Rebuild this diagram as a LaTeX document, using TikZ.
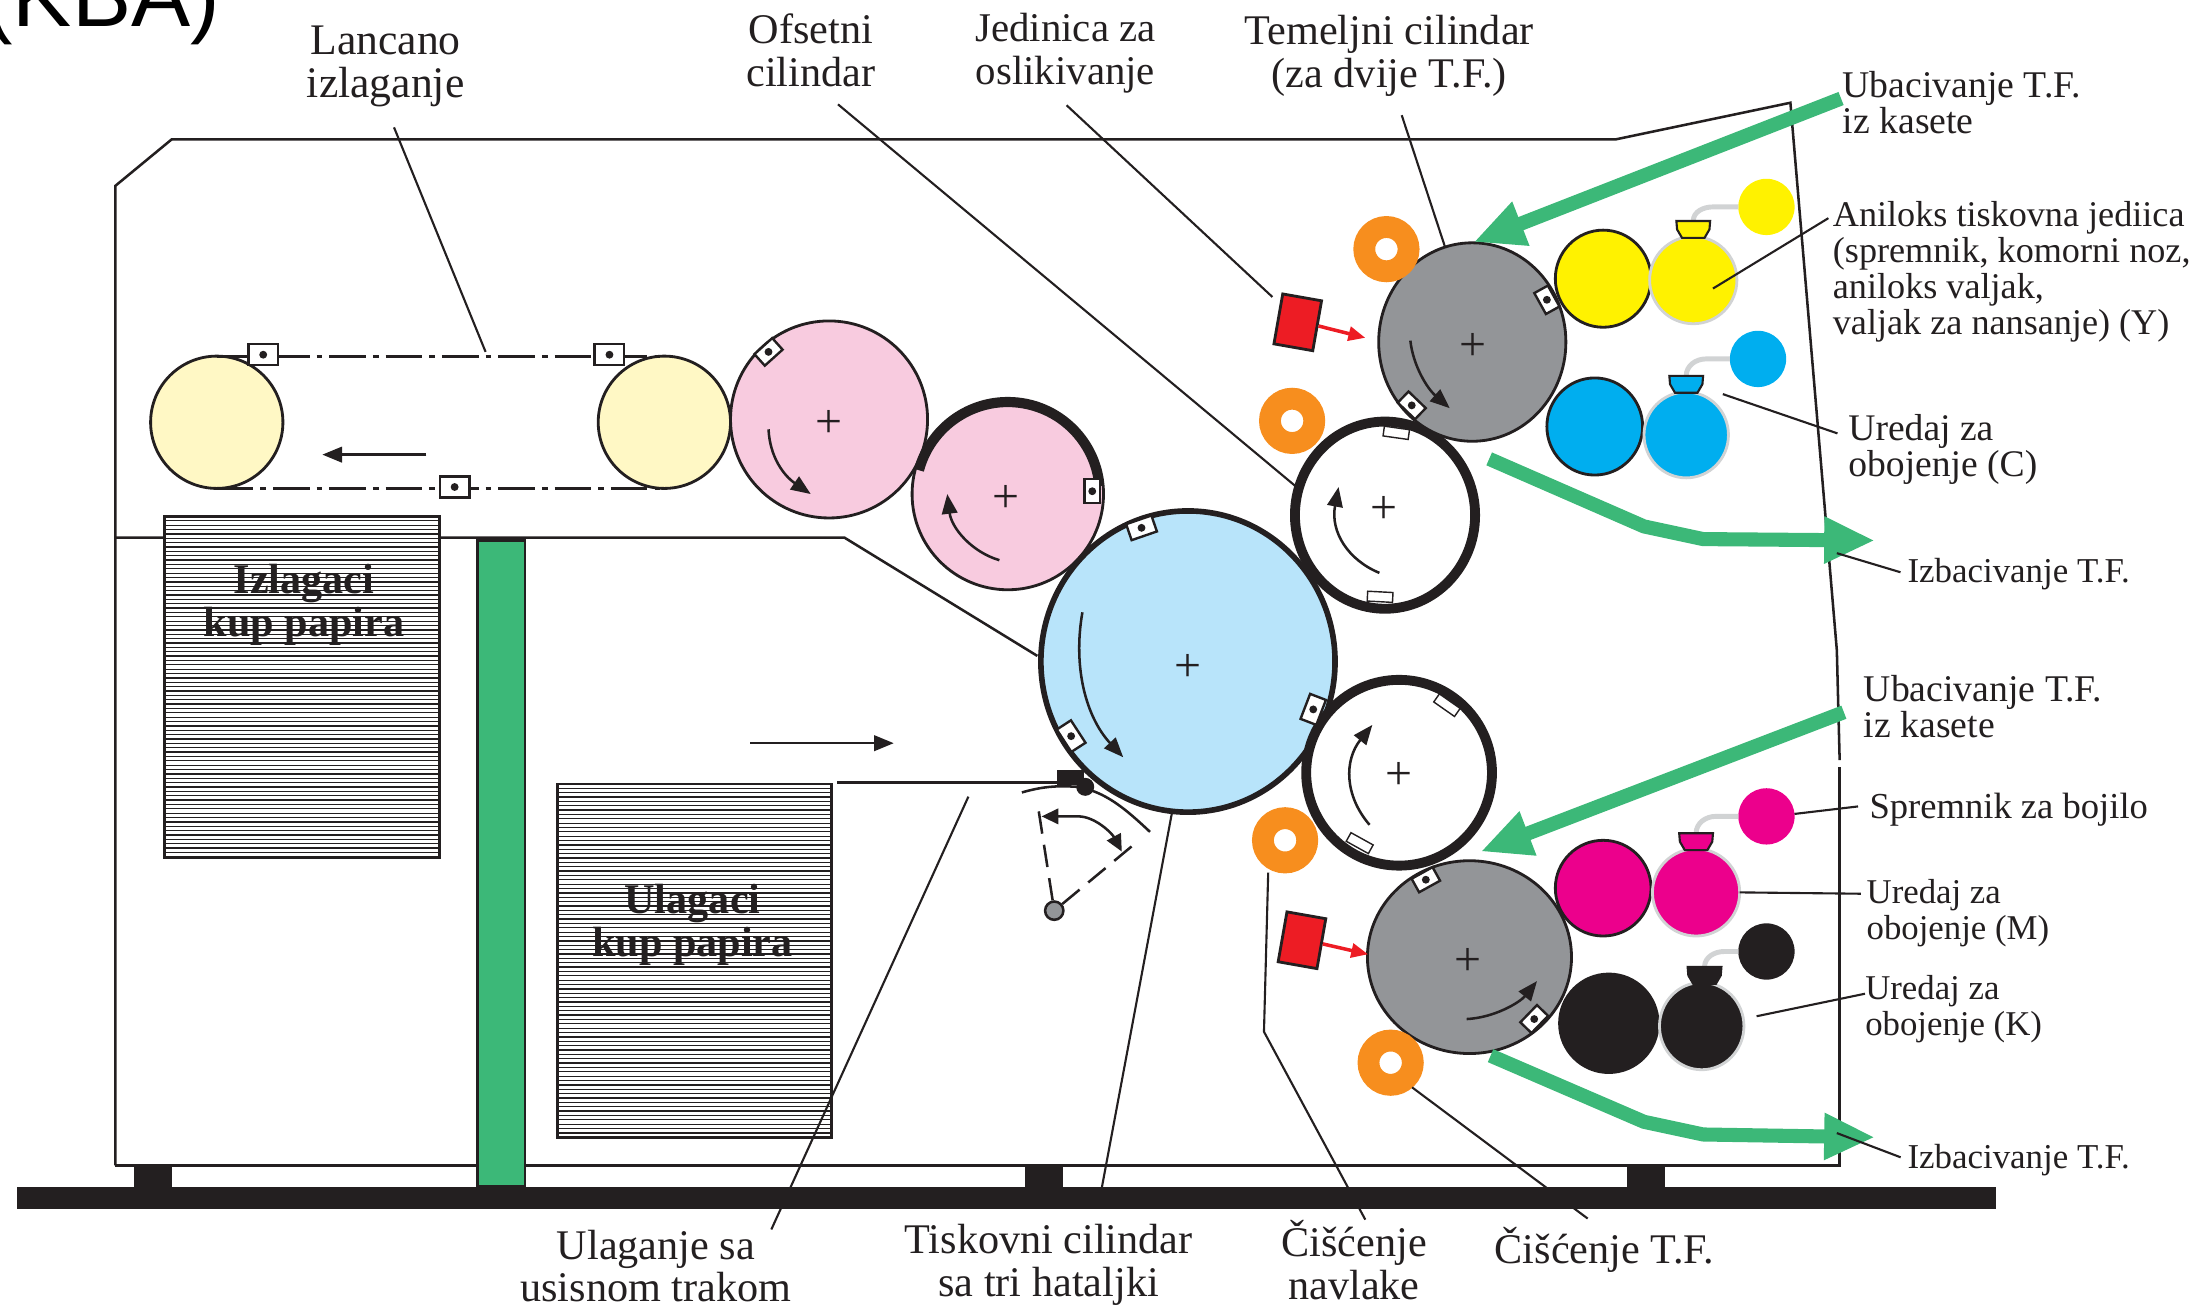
\documentclass[tikz,border=0pt]{standalone}
\usepackage{fontspec}
\setmainfont{Liberation Serif}
\newfontfamily\titlefont{Liberation Sans}
\usetikzlibrary{arrows.meta}
\usetikzlibrary{shapes.geometric}
\definecolor{inkblack}{HTML}{231F20}
\definecolor{chaincol}{HTML}{FFF8C5}
\definecolor{pinkcol}{HTML}{F8CBDF}
\definecolor{bluecol}{HTML}{B8E4FA}
\definecolor{greycol}{HTML}{939598}
\definecolor{greencol}{HTML}{3CB878}
\definecolor{ringcol}{HTML}{F78E1E}
\definecolor{redcol}{HTML}{ED1C24}
\definecolor{yelcol}{HTML}{FFF200}
\definecolor{cyacol}{HTML}{00AEEF}
\definecolor{magcol}{HTML}{EC008C}
\definecolor{tubecol}{HTML}{D1D3D4}
\tikzset{
  rsize/.style 2 args={minimum width=#1pt,minimum height=#2pt},
  roll/.style={ellipse,draw=inkblack,inner sep=0pt,outer sep=0pt,line width=2pt},
  anilox/.style={roll,draw=tubecol},
  ink/.style={ellipse,inner sep=0pt,outer sep=0pt,rsize={40}{40}},
  ring/.style={circle,draw=ringcol,fill=white,line width=15.5pt,minimum size=31.5pt,inner sep=0pt,outer sep=0pt},
  clamp/.style={rectangle,draw=inkblack,fill=white,line width=1.7pt,inner sep=0pt,rsize={17}{11}},
  slot/.style={rectangle,draw=inkblack,fill=white,line width=1pt,inner sep=0pt,rsize={18}{7}},
  lab/.style={align=center,inner sep=0pt,font=\fontsize{#1}{30.5}\selectfont,text=inkblack},
  lab/.default=30,
  labr/.style={align=left,inner sep=0pt,anchor=west,font=\fontsize{#1}{25.5}\selectfont,text=inkblack},
  labr/.default=25.5,
  boldlab/.style={align=center,inner sep=0pt,font=\bfseries\fontsize{30}{30.5}\selectfont,text=inkblack},
  crossmark/.style={inner sep=0pt,font=\fontsize{34}{34}\selectfont,text=inkblack,text height=25.7pt,text depth=0pt},
  hatch/.style={inkblack,line width=0.9pt},
  leader/.style={draw=inkblack,line width=1.5pt},
  turn/.style={draw=inkblack,line width=1.8pt,-{Triangle[length=14pt,width=11pt]}},
  sheet/.style={draw=greencol,line width=10pt,line join=round,-{Triangle[length=36pt,width=31pt]}},
  beam/.style={draw=redcol,line width=2.5pt,-{Triangle[length=12pt,width=10pt]}}
}
\newcommand{\clampat}[4][]{
  \node[clamp,rotate=#4,#1] (#2) at (#3) {};
  \fill[inkblack] (#2) circle (2.8pt);}
\begin{document}
\begin{tikzpicture}[x=1pt,y=-1pt]
  \clip (0,0) rectangle (1568,929);
  \node[anchor=base west,inner sep=0pt,font=\titlefont\fontsize{63}{63}\selectfont] (title) at (-12,19) {(KBA)};
  % machine frame
  \draw[inkblack,line width=1.8pt] (82,828) -- (82,132) -- (122,99) -- (1148,99) -- (1272,73) -- (1305,462) -- (1307,540);
  \draw[inkblack,line width=1.8pt] (1307,545) -- (1307,828) -- (82,828);
  \draw[inkblack,line width=1.8pt] (82,382) -- (600,382) -- (737,466);
  \fill[inkblack] (12,843) rectangle (1418,859);
  \foreach \xx in {95,728,1156}
    \fill[inkblack] (\xx,828) rectangle +(27,15);
  \draw[inkblack,line width=2pt,fill=greencol] (339,384) rectangle (373,843);
  % paper stacks
  \draw[inkblack,line width=2pt,fill=white] (117,367) rectangle (312,609);
  \foreach \yy in {370,373.1,...,607}
    \draw[hatch] (117,\yy) -- (312,\yy);
  \draw[inkblack,line width=2pt,fill=white] (396,557) rectangle (591,808);
  \foreach \yy in {560,563.1,...,806}
    \draw[hatch] (396,\yy) -- (591,\yy);
  \node[boldlab] (izlagaci) at (216,430) {Izlagaci\\kup papira};
  \node[boldlab] (ulagaci) at (492,657) {Ulagaci\\kup papira};
  % chain delivery
  \node[roll,fill=chaincol,rsize={94}{94}] (chaina) at (154,300) {};
  \node[roll,fill=chaincol,rsize={94}{94}] (chainb) at (472,300) {};
  \draw[inkblack,line width=2pt,dash pattern=on 26pt off 5pt on 4pt off 5pt] (chaina.north) -- (chainb.north);
  \draw[inkblack,line width=2pt,dash pattern=on 26pt off 5pt on 4pt off 5pt] (chaina.south) -- (chainb.south);
  \clampat[rsize={21}{15}]{cha}{187,252}{0}
  \clampat[rsize={21}{15}]{chb}{433,252}{0}
  \clampat[rsize={21}{15}]{chc}{323,346}{0}
  \draw[turn] (303,323) -- (229,323);
  \draw[turn] (533,528) -- (635,528);
  % cylinders
  \node[roll,fill=pinkcol,rsize={140}{140}] (pinka) at (589,298) {};
  \node[roll,fill=pinkcol,rsize={136}{136}] (pinkb) at (716,351) {};
  \draw[inkblack,line width=6.5pt] (pinkb) ++(165:65pt) arc[start angle=165,end angle=5,radius=65pt];
  \node[roll,fill=bluecol,line width=4pt,rsize={209}{214}] (press) at (844,470) {};
  \node[roll,fill=white,line width=7pt,rsize={128}{133}] (blanketa) at (984,366) {};
  \node[roll,fill=white,line width=7pt,rsize={132}{132}] (blanketb) at (994,549) {};
  \node[roll,fill=greycol,rsize={133}{141}] (basea) at (1046,243) {};
  \node[roll,fill=greycol,rsize={145}{137}] (baseb) at (1044,680) {};
  \foreach \cx/\cy in {589/298,715/351,844/471,983.5/359,994/548,1046.5/243,1043/680}
    \node[crossmark] (cross\cx) at (\cx,\cy) {+};
  \node[slot,rotate=-8] (slota) at (992,307.5) {};
  \node[slot,rotate=-3] (slotb) at (980.5,424) {};
  \node[slot,rotate=-35] (slotc) at (1028,501) {};
  \node[slot,rotate=-29] (slotd) at (966,599) {};
  \clampat{cpa}{546,250}{42}
  \clampat{cpb}{776,349}{90}
  \clampat[rsize={19}{12}]{cba}{811,375}{19}
  \clampat[rsize={19}{12}]{cbb}{933,504}{69}
  \clampat[rsize={19}{12}]{cbc}{761,523}{-57}
  \clampat{cga}{1099,213}{-61}
  \clampat{cgb}{1003,288}{-44}
  \clampat{cgc}{1013,625}{29}
  \clampat{cgd}{1090,724}{46}
  % rotation arrows
  \draw[turn] (546,305) .. controls (547,325) and (557,338) .. (576,351);
  \draw[turn] (710,398) .. controls (690,392) and (676,375) .. (673,351);
  \draw[turn] (769,435) .. controls (762,475) and (772,510) .. (798,538);
  \draw[turn] (980,407) .. controls (958,398) and (945,378) .. (951,346);
  \draw[turn] (1002,242) .. controls (1004,260) and (1014,276) .. (1030,290);
  \draw[turn] (973,586) .. controls (955,565) and (955,540) .. (975,515);
  \draw[turn] (1042,724) .. controls (1062,723) and (1080,712) .. (1092,697);
  % inking units
  \node[roll,fill=yelcol,rsize={68}{69}] (rolly) at (1139,198) {};
  \node[anilox,fill=yelcol,rsize={62}{62}] (aniy) at (1203,199) {};
  \node[ink,fill=yelcol] (inky) at (1255,147) {};
  \node[roll,fill=cyacol,rsize={68}{69}] (rollc) at (1133,303) {};
  \node[anilox,fill=cyacol,rsize={60}{61}] (anic) at (1198,309) {};
  \node[ink,fill=cyacol] (inkc) at (1249,255) {};
  \node[roll,fill=magcol,rsize={68}{68}] (rollm) at (1139,631) {};
  \node[anilox,fill=magcol,rsize={62}{62}] (anim) at (1205,634) {};
  \node[ink,fill=magcol] (inkm) at (1255,580) {};
  \node[roll,fill=inkblack,rsize={70}{70}] (rollk) at (1143,727) {};
  \node[anilox,fill=inkblack,rsize={60}{62}] (anik) at (1209,729) {};
  \node[ink,fill=inkblack] (inkk) at (1255,676) {};
  \foreach \nm/\col/\tx/\ty/\iy in {inky/yelcol/1203/157/147,inkc/cyacol/1198/267/255,inkm/magcol/1205/592/580,inkk/inkblack/1211/687/676}{
    \draw[tubecol,line width=3.5pt] (\tx,\ty) to[out=90,in=180] (\tx+14,\iy) -- (\nm.west);
    \draw[inkblack,line width=1.5pt,fill=\col] (\tx-12,\ty) -- (\tx+12,\ty) -- (\tx+11.5,\ty+6) -- (\tx+8,\ty+12) -- (\tx-8,\ty+12) -- (\tx-11.5,\ty+6) -- cycle;
  }
  % cleaning rings and imaging heads
  \node[rectangle,draw=inkblack,fill=redcol,line width=2pt,inner sep=0pt,rsize={28}{36},rotate=-10] (heada) at (922,229) {};
  \node[rectangle,draw=inkblack,fill=redcol,line width=2pt,inner sep=0pt,rsize={28}{36},rotate=-10] (headb) at (925,668) {};
  \draw[beam] (heada.east) -- (970,240);
  \draw[beam] (headb.east) -- (972,678);
  \node[ring] (ringa) at (985,177) {};
  \node[ring] (ringb) at (918,299) {};
  \node[ring] (ringc) at (913,597) {};
  \node[ring] (ringd) at (988,755) {};
  % sheet feed detail
  \draw[inkblack,line width=1.8pt] (595,556) -- (766,556);
  \fill[inkblack] (751,547) rectangle (770,558);
  \fill[inkblack] (771,559) circle (6.4pt);
  \draw[inkblack,line width=1.8pt] (726,563) .. controls (740,559) and (750,558) .. (765,559) .. controls (785,562) and (800,575) .. (817,591);
  \node[circle,draw=inkblack,fill=greycol,line width=1.8pt,inner sep=0pt,minimum size=13pt] (pivot) at (749,647) {};
  \coordinate (swinga) at (737,570);
  \coordinate (swingb) at (808,598);
  \draw[inkblack,line width=1.8pt,dash pattern=on 16pt off 8pt] (pivot) -- (swinga);
  \draw[inkblack,line width=1.8pt,dash pattern=on 16pt off 8pt] (pivot) -- (swingb);
  \draw[inkblack,line width=1.8pt,{Triangle[length=12pt,width=11pt]}-{Triangle[length=12pt,width=11pt]}] (740,580) -- (766,580) .. controls (778,580) and (790,592) .. (797,605);
  % sheet paths
  \draw[sheet] (1308,70) -- (1047,172);
  \draw[sheet] (1058,326) -- (1168,374) -- (1210,383) -- (1332,384);
  \draw[sheet] (1310,506) -- (1052,605);
  \draw[sheet] (1059,750) -- (1168,797) -- (1210,806) -- (1332,808);
  % labels
  \node[lab=31] (lancano) at (274,47) {Lancano\\izlaganje};
  \node[lab] (ofsetni) at (576,36) {Ofsetni\\cilindar};
  \node[lab=29] (jedinica) at (757,38) {Jedinica za\\oslikivanje};
  \node[lab] (temeljni) at (987,39.5) {Temeljni cilindar\\(za dvije T.F.)};
  \node[labr=26.8] (ubaca) at (1309,73) {Ubacivanje T.F.\\iz kasete};
  \node[labr=25.7] (aniloks) at (1302,193) {Aniloks tiskovna jediica\\(spremnik, komorni noz,\\aniloks valjak,\\valjak za nansanje) (Y)};
  \node[labr=26.7] (uredc) at (1313,319.5) {Uredaj za\\obojenje (C)};
  \node[labr=24.8] (izbaca) at (1355,408) {Izbacivanje T.F.};
  \node[labr=26.8] (ubacb) at (1324,502) {Ubacivanje T.F.\\iz kasete};
  \node[labr=26] (spremnik) at (1328,575) {Spremnik za bojilo};
  \node[labr=24.7] (uredm) at (1326,649) {Uredaj za\\obojenje (M)};
  \node[labr=24.7] (uredk) at (1325,717) {Uredaj za\\obojenje (K)};
  \node[labr=24.8] (izbacb) at (1355,824) {Izbacivanje T.F.};
  \node[lab] (ulaganje) at (466,899.5) {Ulaganje sa\\usisnom trakom};
  \node[lab] (tiskovni) at (745,898.5) {Tiskovni cilindar\\sa tri hataljki};
  \node[lab] (navlake) at (962,895) {Čišćenje\\navlake};
  \node[lab] (ciscenje) at (1140,888) {Čišćenje T.F.};
  % leader lines
  \coordinate (chainpt) at (345,250);
  \coordinate (headpt) at (904,211);
  \coordinate (feedpt) at (688,566);
  \coordinate (navka) at (898,733);
  \coordinate (navkb) at (901,620);
  \coordinate (anipt) at (1217,205);
  \coordinate (cyanpt) at (1224,280);
  \coordinate (outa) at (1305,393);
  \coordinate (outb) at (1305,805);
  \coordinate (blackpt) at (1248,722);
  \path[leader]
    (lancano.south) edge[shorten <=15.7pt] (chainpt)
    ([xshift=5pt]ofsetni.south) edge[shorten <=18.7pt] (blanketa.163)
    ([xshift=-8pt]jedinica.south) edge[shorten <=12pt] (headpt)
    ([xshift=4.5pt]temeljni.south) edge[shorten <=14pt] (basea.106)
    ([shift={(-3pt,38pt)}]aniloks.west) edge (anipt)
    ([yshift=9pt]uredc.west) edge[shorten <=8pt] (cyanpt)
    (izbaca.west) edge[shorten <=5pt] (outa)
    ([yshift=3pt]spremnik.west) edge[shorten <=8pt] (inkm.5)
    ([yshift=14pt]uredm.west) edge[shorten <=4pt] (anim.east)
    ([yshift=11pt]uredk.west) edge (blackpt)
    (izbacb.west) edge[shorten <=5pt] (outb)
    ([xshift=82pt]ulaganje.north) edge (feedpt)
    ([xshift=33pt]tiskovni.north) edge[shorten <=23pt] (press.-96)
    ([xshift=-4pt]ciscenje.north) edge[shorten <=10pt,shorten >=7.75pt] (ringd.-55);
  \draw[leader] ([xshift=8pt]navlake.north) -- (navka) -- (navkb);
\end{tikzpicture}
\end{document}
